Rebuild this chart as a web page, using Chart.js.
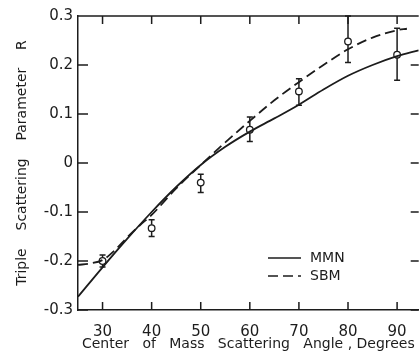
<!DOCTYPE html>
<html>
<head>
<meta charset="utf-8">
<script src="https://cdn.jsdelivr.net/npm/chart.js@4/dist/chart.umd.min.js"></script>
<style>
  html, body { margin: 0; padding: 0; background: #fff; overflow: hidden; }
  #wrap { position: absolute; left: 0; top: 0; width: 424px; height: 352px; }
</style>
</head>
<body>
<div id="wrap"><canvas id="chart"></canvas></div>
<script>
// tick values
const xTicks = [30, 40, 50, 60, 70, 80, 90];
const yTicks = [-0.3, -0.2, -0.1, 0, 0.1, 0.2, 0.3];

// MMN curve (solid)
const mmnAngle = [25, 30, 35, 40, 45, 50, 55, 60, 65, 70, 75, 80, 85, 90, 94.4];
const mmnR     = [-0.273, -0.213, -0.155, -0.100, -0.049, -0.004, 0.033, 0.064, 0.091, 0.119, 0.150, 0.178, 0.200, 0.218, 0.230];

// SBM curve (dashed)
const sbmAngle = [25, 27.5, 30, 32.5, 35, 37.5, 40, 45, 50, 55, 60, 65, 70, 75, 80, 85, 90, 92];
const sbmR     = [-0.208, -0.205, -0.198, -0.178, -0.152, -0.128, -0.106, -0.052, -0.004, 0.042, 0.086, 0.128, 0.165, 0.200, 0.232, 0.256, 0.271, 0.274];

// measured points with error bars
const obsAngle = [30, 40, 50, 60, 70, 80, 90];
const obsR     = [-0.200, -0.133, -0.040, 0.068, 0.146, 0.248, 0.221];
const obsLo    = [-0.212, -0.150, -0.060, 0.044, 0.118, 0.205, 0.169];
const obsHi    = [-0.188, -0.116, -0.023, 0.094, 0.172, 0.300, 0.275];

const INK = '#1c1c1c';
Chart.defaults.font.family = '"DejaVu Sans", sans-serif';
Chart.defaults.color = INK;

const pts = (xs, ys) => xs.map((x, i) => ({ x, y: ys[i] }));

// error bars, drawn under the circles
const errorBars = {
  id: 'errorBars',
  beforeDatasetsDraw(chart) {
    const { ctx, scales: { x, y } } = chart;
    ctx.save();
    ctx.strokeStyle = INK;
    ctx.lineWidth = 1.5;
    obsAngle.forEach((a, i) => {
      const px = x.getPixelForValue(a);
      const y0 = y.getPixelForValue(obsLo[i]);
      const y1 = y.getPixelForValue(obsHi[i]);
      ctx.beginPath();
      ctx.moveTo(px, y0); ctx.lineTo(px, y1);
      ctx.moveTo(px - 3, y0); ctx.lineTo(px + 3, y0);
      ctx.moveTo(px - 3, y1); ctx.lineTo(px + 3, y1);
      ctx.stroke();
    });
    ctx.restore();
  },
};

// frame top edge and inward tick marks
const frame = {
  id: 'frame',
  afterDraw(chart) {
    const { ctx, chartArea: a, scales: { x, y } } = chart;
    ctx.save();
    ctx.strokeStyle = INK;
    ctx.lineWidth = 1.5;
    ctx.beginPath();
    ctx.moveTo(a.left, a.top); ctx.lineTo(a.right, a.top);
    xTicks.forEach(v => {
      const px = x.getPixelForValue(v);
      ctx.moveTo(px, a.bottom); ctx.lineTo(px, a.bottom - 8);
      ctx.moveTo(px, a.top); ctx.lineTo(px, a.top + 8);
    });
    yTicks.forEach(v => {
      const py = y.getPixelForValue(v);
      ctx.moveTo(a.left, py); ctx.lineTo(a.left + 10, py);
      ctx.moveTo(a.right, py); ctx.lineTo(a.right - 8, py);
    });
    ctx.stroke();
    ctx.restore();
  },
};

// legend inside the plot
const innerLegend = {
  id: 'innerLegend',
  afterDraw(chart) {
    const { ctx } = chart;
    ctx.save();
    ctx.font = '14px "DejaVu Sans", sans-serif';
    ctx.textBaseline = 'middle';
    ctx.fillStyle = INK;
    chart.data.datasets.slice(0, 2).forEach((ds, i) => {
      const yy = 258 + i * 18;
      ctx.strokeStyle = INK;
      ctx.lineWidth = 1.3;
      ctx.setLineDash(ds.borderDash || []);
      ctx.beginPath();
      ctx.moveTo(268, yy); ctx.lineTo(301, yy);
      ctx.stroke();
      ctx.setLineDash([]);
      ctx.fillText(ds.label, 310, yy);
    });
    ctx.restore();
  },
};

new Chart(document.getElementById('chart'), {
  type: 'line',
  data: {
    datasets: [
      { label: 'MMN', data: pts(mmnAngle, mmnR), borderColor: INK, borderWidth: 1.8,
        pointRadius: 0, cubicInterpolationMode: 'monotone', fill: false },
      { label: 'SBM', data: pts(sbmAngle, sbmR), borderColor: INK, borderWidth: 1.8,
        borderDash: [10, 5], pointRadius: 0, cubicInterpolationMode: 'monotone', fill: false },
      { label: 'data', data: pts(obsAngle, obsR), showLine: false,
        pointRadius: 3.3, pointBackgroundColor: '#fff', pointBorderColor: INK, pointBorderWidth: 1.3 },
    ],
  },
  options: {
    animation: false, responsive: true, maintainAspectRatio: false,
    layout: { padding: { top: 16, right: 3, left: 0, bottom: 0 } },
    plugins: { legend: { display: false }, tooltip: { enabled: false } },
    scales: {
      x: {
        type: 'linear', min: 25, max: 94.4,
        afterBuildTicks: s => { s.ticks = xTicks.map(v => ({ value: v })); },
        afterFit: s => { s.height = 42; },
        grid: { display: false, drawTicks: false },
        border: { display: true, color: INK, width: 1.5 },
        ticks: { padding: 13, font: { size: 15 }, callback: v => String(v) },
        title: { display: true, text: 'Center   of   Mass   Scattering   Angle , Degrees',
                 font: { size: 14 }, padding: { top: 0, bottom: -1 } },
      },
      y: {
        min: -0.3, max: 0.3,
        afterBuildTicks: s => { s.ticks = yTicks.map(v => ({ value: v })); },
        afterFit: s => { s.width = 78; },
        grid: { display: false, drawTicks: false },
        border: { display: true, color: INK, width: 1.5 },
        ticks: { padding: 5, font: { size: 15 }, callback: v => v === 0 ? '0' : v.toFixed(1) },
        title: { display: true, text: 'Triple    Scattering    Parameter    R',
                 font: { size: 14 }, padding: { top: 14, bottom: 0 } },
      },
    },
  },
  plugins: [errorBars, frame, innerLegend],
});
</script>
</body>
</html>
